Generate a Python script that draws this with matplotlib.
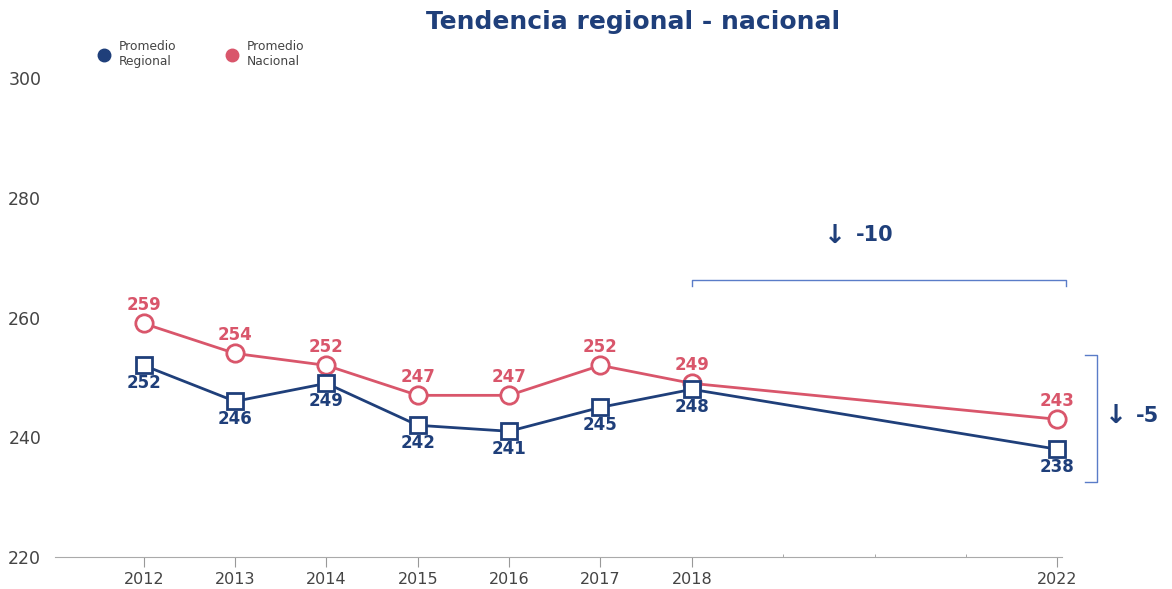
import matplotlib.pyplot as plt
from matplotlib.lines import Line2D

years = [2012, 2013, 2014, 2015, 2016, 2017, 2018, 2022]
nacional = [259, 254, 252, 247, 247, 252, 249, 243]
regional = [252, 246, 249, 242, 241, 245, 248, 238]
yticks = [220, 240, 260, 280, 300]

blue = '#1f3f7a'
red = '#d9566b'
bracket = '#5a7cc8'
grey = '#444444'

fig = plt.figure(figsize=(11.72, 5.89), dpi=100)
ax = fig.add_axes([0.047, 0.0543, 0.859, 0.8133])

ax.plot(years, nacional, color=red, lw=2, marker='o', ms=12.5,
        mfc='white', mec=red, mew=2, clip_on=False, zorder=3)
ax.plot(years, regional, color=blue, lw=2, marker='s', ms=11.5,
        mfc='white', mec=blue, mew=2, clip_on=False, zorder=3)

for x, y in zip(years, nacional):
    ax.annotate(str(y), (x, y), xytext=(0, 13.5), textcoords='offset points',
                ha='center', va='center', color=red, fontsize=12, fontweight='bold')
for x, y in zip(years, regional):
    ax.annotate(str(y), (x, y), xytext=(0, -13), textcoords='offset points',
                ha='center', va='center', color=blue, fontsize=12, fontweight='bold')

# brackets for the differences
ax.plot([2018, 2018, 2022.1, 2022.1], [265.3, 266.3, 266.3, 265.3],
        color=bracket, lw=1, clip_on=False)
ax.text(2019.57, 273.7, '↓', ha='center', va='center', color=blue,
        fontsize=19, fontweight='bold')
ax.text(2020.0, 273.7, '-10', ha='center', va='center', color=blue,
        fontsize=15, fontweight='bold')
ax.plot([2022.3, 2022.43, 2022.43, 2022.3], [253.7, 253.7, 232.5, 232.5],
        color=bracket, lw=1, clip_on=False)
ax.text(2022.64, 243.5, '↓', ha='center', va='center', color=blue,
        fontsize=19, fontweight='bold', clip_on=False)
ax.text(2022.99, 243.5, '-5', ha='center', va='center', color=blue,
        fontsize=15, fontweight='bold', clip_on=False)

ax.set_xlim(2011.03, 2022.05)
ax.set_ylim(220, 300)
ax.set_xticks(years)
ax.set_xticks([2019, 2020, 2021], minor=True)
ax.set_yticks(yticks)
ax.tick_params(axis='x', length=7, color='#999999', labelsize=11.5, labelcolor=grey, pad=4)
ax.tick_params(axis='x', which='minor', length=2, color='#999999', direction='in')
ax.tick_params(axis='y', length=0, labelsize=12.5, labelcolor=grey, pad=10)
for s in ['top', 'right', 'left']:
    ax.spines[s].set_visible(False)
ax.spines['bottom'].set_color('#aaaaaa')

fig.suptitle('Tendencia regional - nacional', x=0.54, y=0.983, color=blue,
             fontsize=18, fontweight='bold')

handles = [Line2D([], [], marker='o', ls='', color=blue, ms=9),
           Line2D([], [], marker='o', ls='', color=red, ms=9)]
fig.legend(handles, ['Promedio\nRegional', 'Promedio\nNacional'], ncol=2,
           loc='upper left', bbox_to_anchor=(0.074, 0.951), frameon=False,
           fontsize=8.8, labelcolor=grey, handletextpad=0.7, columnspacing=4.1,
           handlelength=1)

fig.savefig('out.png')
